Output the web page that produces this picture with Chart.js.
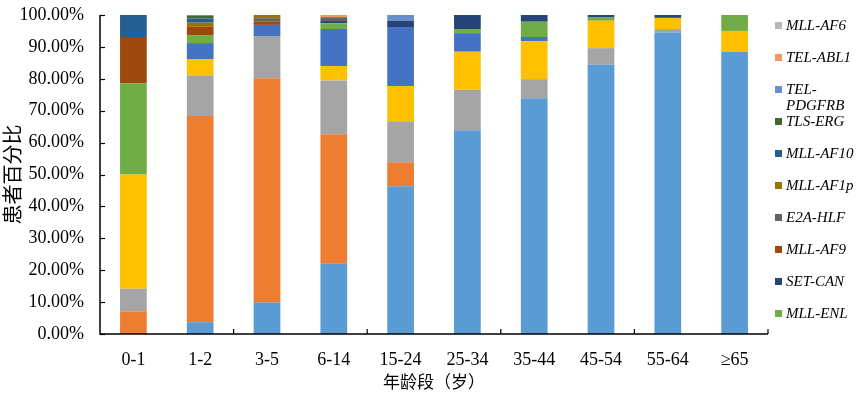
<!DOCTYPE html>
<html>
<head>
<meta charset="utf-8">
<script src="https://cdn.jsdelivr.net/npm/chart.js@4.4.0/dist/chart.umd.min.js"></script>
<style>
  html, body { margin: 0; padding: 0; background: #fff; }
  #wrap { width: 865px; height: 398px; }
</style>
</head>
<body>
<div id="wrap"><canvas id="myChart"></canvas></div>
<script>
// age groups
var ageGroups = ['0-1', '1-2', '3-5', '6-14', '15-24', '25-34', '35-44', '45-54', '55-64', '≥65'];
var yTicks = [0, 10, 20, 30, 40, 50, 60, 70, 80, 90, 100];

// percent of patients per fusion gene (bottom of stack first)
var bcrAbl1   = [0, 3.7, 9.9, 22.2, 46.3, 63.9, 73.9, 84.4, 94.5, 88.4];
var telAml1   = [7.1, 64.6, 70.3, 40.4, 7.5, 0, 0, 0, 0, 0];
var e2aPbx1   = [7.1, 12.7, 13.2, 16.9, 12.9, 12.7, 6.0, 5.2, 1.1, 0];
var mllAf4    = [35.8, 5.2, 0, 4.5, 11.0, 11.9, 11.9, 8.6, 3.5, 6.6];
var silTal1   = [0, 5.0, 3.5, 11.6, 18.5, 5.8, 1.3, 0, 0, 0];
var mllEnl    = [28.6, 2.5, 0, 1.8, 0, 1.3, 4.8, 1.0, 0, 5.0];
var setCan    = [0, 0, 0, 0.7, 2.0, 4.4, 2.1, 0.8, 0.9, 0];
var mllAf9    = [14.5, 2.6, 1.0, 0, 0, 0, 0, 0, 0, 0];
var e2aHlf    = [0, 0, 1.1, 1.2, 0, 0, 0, 0, 0, 0];
var mllAf1p   = [0, 1.3, 1.0, 0, 0, 0, 0, 0, 0, 0];
var mllAf10   = [6.9, 1.3, 0, 0, 0, 0, 0, 0, 0, 0];
var tlsErg    = [0, 1.0, 0, 0, 0, 0, 0, 0, 0, 0];
var telPdgfrb = [0, 0, 0, 0, 1.9, 0, 0, 0, 0, 0];
var telAbl1   = [0, 0, 0, 0.7, 0, 0, 0, 0, 0, 0];
var mllAf6    = [0, 0, 0, 0, 0, 0, 0, 0, 0, 0];

var serie = [
  { label: 'BCR-ABL1',   data: bcrAbl1,   color: '#5B9BD5', legenda: false },
  { label: 'TEL-AML1',   data: telAml1,   color: '#ED7D31', legenda: false },
  { label: 'E2A-PBX1',   data: e2aPbx1,   color: '#A5A5A5', legenda: false },
  { label: 'MLL-AF4',    data: mllAf4,    color: '#FFC000', legenda: false },
  { label: 'SIL-TAL1',   data: silTal1,   color: '#4472C4', legenda: false },
  { label: 'MLL-ENL',    data: mllEnl,    color: '#70AD47', legenda: true },
  { label: 'SET-CAN',    data: setCan,    color: '#264478', legenda: true },
  { label: 'MLL-AF9',    data: mllAf9,    color: '#9E480E', legenda: true },
  { label: 'E2A-HLF',    data: e2aHlf,    color: '#636363', legenda: true },
  { label: 'MLL-AF1p',   data: mllAf1p,   color: '#997300', legenda: true },
  { label: 'MLL-AF10',   data: mllAf10,   color: '#255E91', legenda: true },
  { label: 'TLS-ERG',    data: tlsErg,    color: '#43682B', legenda: true },
  { label: 'TEL-PDGFRB', data: telPdgfrb, color: '#698ED0', legenda: true },
  { label: 'TEL-ABL1',   data: telAbl1,   color: '#F1975A', legenda: true },
  { label: 'MLL-AF6',    data: mllAf6,    color: '#B7B7B7', legenda: true }
];

var serif = "'Liberation Serif', 'Times New Roman', serif";
var cjk = "'Noto Sans CJK SC', sans-serif";

// Excel style axes: inside tick marks, x marks every 2 categories
var assiPlugin = {
  id: 'assi',
  afterDatasetsDraw(chart) {
    var ctx = chart.ctx;
    var a = chart.chartArea;
    var y = chart.scales.y;
    ctx.save();
    ctx.strokeStyle = '#000';
    ctx.lineWidth = 1.5;
    ctx.beginPath();
    ctx.moveTo(a.left, a.top);
    ctx.lineTo(a.left, a.bottom);
    ctx.lineTo(a.right, a.bottom);
    ctx.stroke();
    ctx.lineWidth = 1.2;
    yTicks.forEach(function (v) {
      var py = Math.round(y.getPixelForValue(v)) + 0.5;
      ctx.beginPath();
      ctx.moveTo(a.left, py);
      ctx.lineTo(a.left + 5, py);
      ctx.stroke();
    });
    var w = (a.right - a.left) / ageGroups.length;
    for (var i = 2; i <= ageGroups.length; i += 2) {
      var px = a.left + i * w;
      ctx.beginPath();
      ctx.moveTo(px, a.bottom);
      ctx.lineTo(px, a.bottom - 5);
      ctx.stroke();
    }
    ctx.restore();
  }
};

// right hand legend, reversed like Excel, only the series that fit
var legendaPlugin = {
  id: 'legenda',
  afterDraw(chart) {
    var ctx = chart.ctx;
    ctx.save();
    ctx.font = 'italic 15px ' + serif;
    ctx.textBaseline = 'middle';
    var voci = chart.data.datasets.filter(function (d) { return d.legenda; }).reverse();
    voci.forEach(function (d, i) {
      var yy = 26 + i * 32;
      ctx.fillStyle = d.backgroundColor;
      ctx.fillRect(775, yy - 4, 7, 7);
      ctx.fillStyle = '#000';
      var t = d.label;
      if (ctx.measureText(t).width > 72) {
        var k = t.indexOf('-') + 1;
        ctx.fillText(t.slice(0, k), 786, yy);
        ctx.fillText(t.slice(k), 786, yy + 16);
      } else {
        ctx.fillText(t, 786, yy);
      }
    });
    ctx.restore();
  }
};

var ctx = document.getElementById('myChart');
var myChart = new Chart(ctx, {
  type: 'bar',
  data: {
    labels: ageGroups,
    datasets: serie.map(function (s) {
      return {
        label: s.label,
        data: s.data,
        backgroundColor: s.color,
        borderWidth: 0,
        legenda: s.legenda,
        categoryPercentage: 1,
        barPercentage: 0.4
      };
    })
  },
  options: {
    responsive: true,
    maintainAspectRatio: false,
    animation: false,
    layout: { padding: { left: 0, right: 97, top: 15, bottom: 2 } },
    plugins: {
      legend: { display: false },
      tooltip: { enabled: false }
    },
    scales: {
      x: {
        stacked: true,
        grid: { display: false, drawTicks: false },
        border: { display: false },
        ticks: { color: '#000', padding: 15, font: { family: serif, size: 18 } },
        title: { display: true, text: '年龄段（岁）', color: '#000', padding: { top: 0, bottom: 4 }, font: { family: cjk, size: 17 } },
        afterFit(s) { s.height = 62; s.paddingLeft = 0; s.paddingRight = 0; }
      },
      y: {
        stacked: true,
        min: 0,
        max: 100,
        grid: { display: false, drawTicks: false },
        border: { display: false },
        afterBuildTicks(s) { s.ticks = yTicks.map(function (v) { return { value: v }; }); },
        ticks: {
          color: '#000',
          padding: 16,
          font: { family: serif, size: 18 },
          callback: function (v) { return v.toFixed(2) + '%'; }
        },
        title: { display: true, text: '患者百分比', color: '#000', padding: 0, font: { family: cjk, size: 20 } },
        afterFit(s) { s.width = 100; s.paddingTop = 0; s.paddingBottom = 0; }
      }
    }
  },
  plugins: [assiPlugin, legendaPlugin]
});
</script>
</body>
</html>
